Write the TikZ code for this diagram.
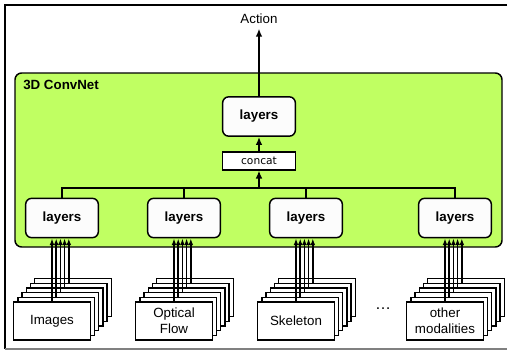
\documentclass[tikz,border=0pt]{standalone}
\usepackage{fontspec}
\setmainfont{Liberation Sans}
\newfontfamily\concatfont{DejaVu Sans}
\usepackage{xcolor}
\usetikzlibrary{positioning, arrows.meta}
\definecolor{netgreen}{RGB}{192,255,98}
\definecolor{boxwhite}{RGB}{252,252,252}

\begin{document}
\begin{tikzpicture}[x=0.75pt, y=-0.75pt,
    layerbox/.style={draw, line width=1.1pt, rounded corners=4.5pt, fill=boxwhite,
      minimum width=54.5pt, minimum height=29.5pt, inner sep=0pt, font=\bfseries},
    concatbox/.style={draw, line width=0.8pt, fill=white, minimum width=55pt,
      minimum height=13.5pt, inner sep=0pt, font=\concatfont\footnotesize},
    sheet/.style={draw, line width=1pt, fill=white, minimum width=57.5pt,
      minimum height=28.5pt, inner sep=0pt, align=center, font=\normalsize},
    flow/.style={line width=1.5pt, -{Latex[length=6pt, width=5pt]}},
    feed/.style={line width=1.3pt, -{Latex[length=5pt, width=3.6pt]}}]
  \useasboundingbox (0,0) rectangle (508,350);
  % frame
  \draw[line width=0.8pt] (507,5) -- (5,5) -- (5,349);
  \draw[line width=0.8pt, gray] (5,349) -- (507,349);
  % network box
  \draw[line width=1.1pt, fill=netgreen, rounded corners=5pt] (15,73) rectangle (502,247);
  \node[anchor=west, font=\bfseries, inner sep=0pt] at (23,85) (title) {3D ConvNet};

  \node at (259,19) (action) {Action};
  \node[layerbox] at (259,116.5) (top) {layers};
  \node[concatbox] at (259,161) (concat) {concat};
  \coordinate (bus) at (259,188);

  % input stacks and their layers
  \foreach \name/\lx/\label in {img/62/Images, opt/184/{Optical\\Flow},
      skel/306/Skeleton, oth/455/{other\\modalities}} {
    \node[layerbox] at (\lx,218) (\name) {layers};
    \foreach \k in {5,...,1}
      \node[sheet] at (\lx-10+4.2*\k, 321-4.7*\k) (\name\k) {};
    \node[sheet] at (\lx-10, 321) (\name0) {\label};
    \foreach \k in {0,...,4}
      \draw[feed] (\name\k.north) -- (\name\k.north |- \name.south);
  }
  \node[font=\large] at (383,309) (dots) {\dots};

  % merge into concat
  \draw[line width=1.5pt] (img.north) -- (img.north |- bus) -- (oth.north |- bus) -- (oth.north);
  \draw[line width=1.5pt] (opt.north) -- (opt.north |- bus);
  \draw[line width=1.5pt] (skel.north) -- (skel.north |- bus);
  \draw[flow] (bus) -- (concat.south);
  \draw[flow] (concat.north) -- (top.south);
  \draw[flow] (top.north) -- (action.south);
\end{tikzpicture}
\end{document}
